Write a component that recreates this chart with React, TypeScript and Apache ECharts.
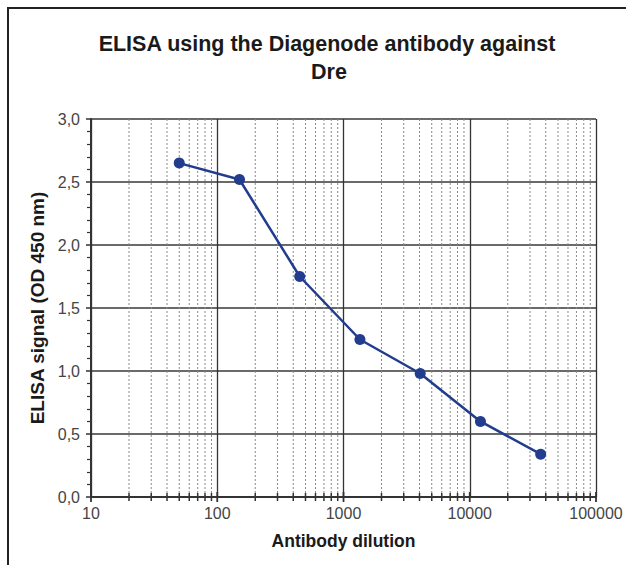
import React, { useEffect, useRef } from "react";
import * as echarts from "echarts";

const dilutions = [50, 150, 450, 1350, 4050, 12150, 36450];
const signal = [2.65, 2.52, 1.75, 1.25, 0.98, 0.6, 0.34];
const majorX = [10, 100, 1000, 10000, 100000];
const minorX = [
  20, 30, 40, 50, 60, 70, 80, 90,
  200, 300, 400, 500, 600, 700, 800, 900,
  2000, 3000, 4000, 5000, 6000, 7000, 8000, 9000,
  20000, 30000, 40000, 50000, 60000, 70000, 80000, 90000,
];
const titleLines = ["ELISA using the Diagenode antibody against", "Dre"];
const xName = "Antibody dilution";
const yName = "ELISA signal (OD 450 nm)";

export default function App() {
  const ref = useRef<HTMLDivElement>(null);
  useEffect(() => {
    if (!ref.current) return;
    const chart = echarts.init(ref.current, undefined, { renderer: "svg" });
    const font = "Liberation Sans, Arial, sans-serif";
    chart.setOption({
      animation: false,
      backgroundColor: "#fff",
      grid: { left: 91, top: 119, width: 505, height: 378, containLabel: false },
      graphic: [
        {
          type: "rect",
          shape: { x: 8, y: 8, width: 640, height: 620 },
          style: { fill: "none", stroke: "#222", lineWidth: 2 },
          silent: true,
        },
        {
          type: "text",
          x: 327,
          y: 44,
          style: {
            text: titleLines[0],
            font: "bold 21.5px " + font,
            fill: "#1a1a1a",
            textAlign: "center",
            textVerticalAlign: "middle",
          },
        },
        {
          type: "text",
          x: 329,
          y: 72,
          style: {
            text: titleLines[1],
            font: "bold 21.5px " + font,
            fill: "#1a1a1a",
            textAlign: "center",
            textVerticalAlign: "middle",
          },
        },
      ],
      xAxis: {
        type: "log",
        logBase: 10,
        min: 10,
        max: 100000,
        name: xName,
        nameLocation: "middle",
        nameGap: 35,
        nameTextStyle: { fontFamily: font, fontWeight: "bold", fontSize: 17.5, color: "#1a1a1a" },
        axisLine: { show: true, onZero: false, lineStyle: { color: "#333", width: 2 } },
        axisTick: { show: false },
        axisLabel: {
          margin: 8,
          fontFamily: font,
          fontSize: 16,
          color: "#444",
          formatter: (v: number) => String(Math.round(v)),
        },
        splitLine: { show: true, lineStyle: { color: "#333", width: 1.3 } },
      },
      yAxis: {
        type: "value",
        min: 0,
        max: 3,
        interval: 0.5,
        name: yName,
        nameLocation: "middle",
        nameRotate: 90,
        nameGap: 42,
        nameTextStyle: { fontFamily: font, fontWeight: "bold", fontSize: 19, color: "#1a1a1a" },
        axisLine: { show: true, lineStyle: { color: "#333", width: 2 } },
        axisTick: { show: true, length: 5, lineStyle: { color: "#333", width: 1.5 } },
        minorTick: { show: true, splitNumber: 5, length: 4, lineStyle: { color: "#333", width: 1.2 } },
        axisLabel: {
          margin: 11,
          fontFamily: font,
          fontSize: 16,
          color: "#444",
          formatter: (v: number) => v.toFixed(1).replace(".", ","),
        },
        splitLine: { show: true, lineStyle: { color: "#6a6a6a", width: 2 } },
      },
      series: [
        {
          type: "custom",
          silent: true,
          z: 1,
          clip: false,
          data: minorX.map((v) => [v, 0]),
          encode: { x: 0, y: 1 },
          renderItem: (params: any, api: any) => {
            const v = api.value(0);
            const b = api.coord([v, 0]);
            const t = api.coord([v, 3]);
            return {
              type: "group",
              children: [
                {
                  type: "line",
                  shape: { x1: b[0], y1: b[1], x2: t[0], y2: t[1] },
                  style: { stroke: "#8a8a8a", lineWidth: 1, lineDash: [2, 2] },
                },
                {
                  type: "line",
                  shape: { x1: b[0], y1: b[1] - 4, x2: b[0], y2: b[1] + 4 },
                  style: { stroke: "#333", lineWidth: 1.5 },
                },
              ],
            };
          },
        },
        {
          type: "custom",
          silent: true,
          z: 1,
          clip: false,
          data: majorX.map((v) => [v, 0]),
          encode: { x: 0, y: 1 },
          renderItem: (params: any, api: any) => {
            const v = api.value(0);
            const b = api.coord([v, 0]);
            return {
              type: "line",
              shape: { x1: b[0], y1: b[1] - 5, x2: b[0], y2: b[1] + 5 },
              style: { stroke: "#333", lineWidth: 1.8 },
            };
          },
        },
        {
          type: "line",
          z: 3,
          data: dilutions.map((d, i) => [d, signal[i]]),
          symbol: "circle",
          symbolSize: 11,
          lineStyle: { color: "#223c8e", width: 2.5 },
          itemStyle: { color: "#223c8e" },
        },
      ],
    });
    return () => chart.dispose();
  }, []);
  return (
    <div
      ref={ref}
      style={{ position: "fixed", left: 0, top: 0, width: 626, height: 565 }}
    />
  );
}
